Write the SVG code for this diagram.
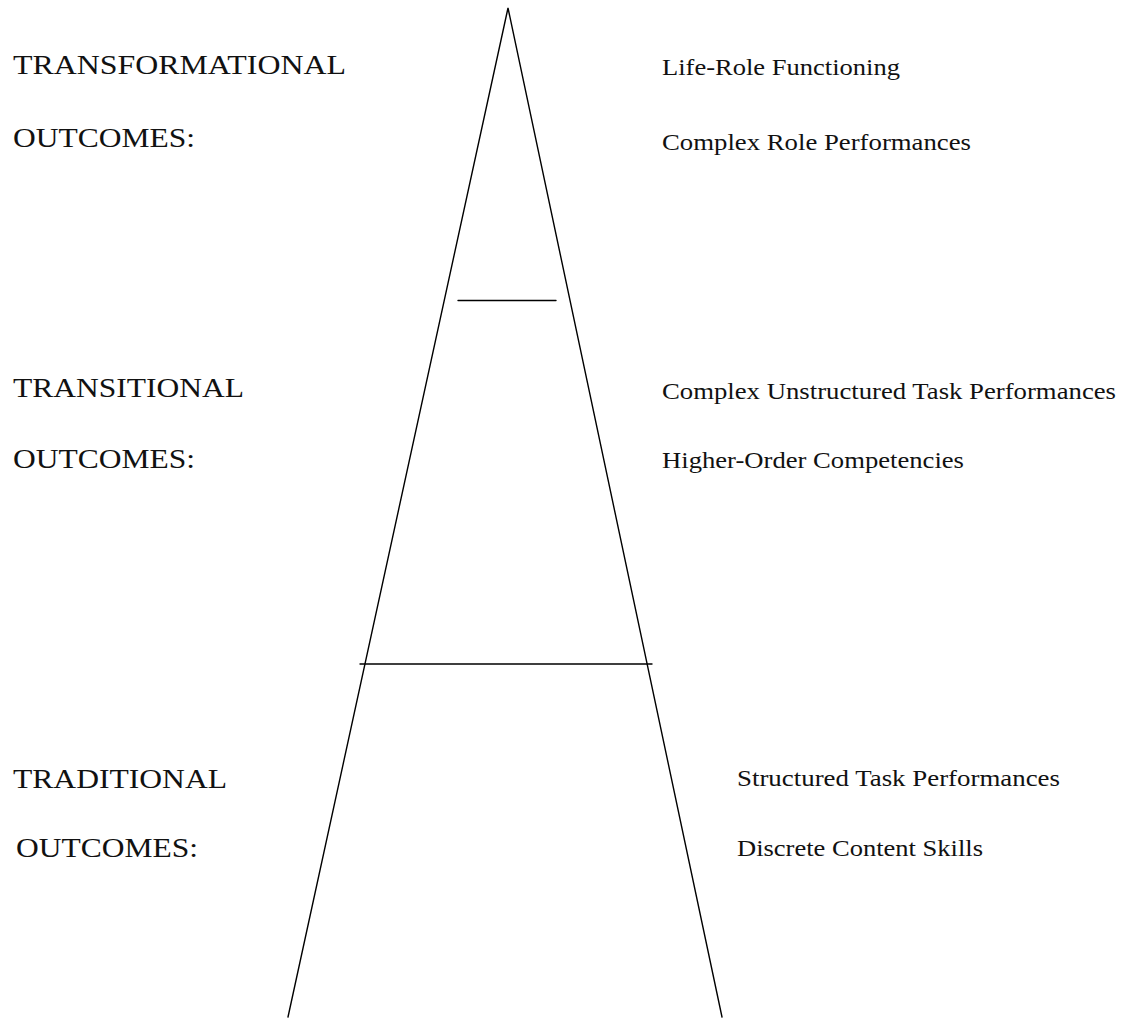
<svg xmlns="http://www.w3.org/2000/svg" width="1122" height="1018" viewBox="0 0 1122 1018">
  <style>
    .edge { stroke: #000; stroke-width: 1.4; fill: none; stroke-linecap: round; }
    .tier { font-family: "Liberation Serif", "Times New Roman", serif; font-size: 27px; fill: #111; }
    .item { font-family: "Liberation Serif", "Times New Roman", serif; font-size: 22.5px; fill: #111; }
  </style>
  <rect width="1122" height="1018" fill="#fff"/>

  <!-- pyramid outline and tier dividers -->
  <g id="connectors">
    <path class="edge" d="M288 1017 L508 8 L722 1017"/>
    <line class="edge" x1="458" y1="300.5" x2="556" y2="300.5"/>
    <line class="edge" x1="360" y1="664" x2="652" y2="664"/>
  </g>

  <g id="transformational">
    <text class="tier" x="13" y="74" textLength="333" lengthAdjust="spacingAndGlyphs">TRANSFORMATIONAL</text>
    <text class="tier" x="13" y="147" textLength="182" lengthAdjust="spacingAndGlyphs">OUTCOMES:</text>
    <text class="item" x="662" y="75" textLength="238" lengthAdjust="spacingAndGlyphs">Life-Role Functioning</text>
    <text class="item" x="662" y="150" textLength="309" lengthAdjust="spacingAndGlyphs">Complex Role Performances</text>
  </g>

  <g id="transitional">
    <text class="tier" x="13" y="397" textLength="231" lengthAdjust="spacingAndGlyphs">TRANSITIONAL</text>
    <text class="tier" x="13" y="468" textLength="182" lengthAdjust="spacingAndGlyphs">OUTCOMES:</text>
    <text class="item" x="662" y="399" textLength="454" lengthAdjust="spacingAndGlyphs">Complex Unstructured Task Performances</text>
    <text class="item" x="662" y="468" textLength="302" lengthAdjust="spacingAndGlyphs">Higher-Order Competencies</text>
  </g>

  <g id="traditional">
    <text class="tier" x="13" y="788" textLength="214" lengthAdjust="spacingAndGlyphs">TRADITIONAL</text>
    <text class="tier" x="16" y="857" textLength="182" lengthAdjust="spacingAndGlyphs">OUTCOMES:</text>
    <text class="item" x="737" y="786" textLength="323" lengthAdjust="spacingAndGlyphs">Structured Task Performances</text>
    <text class="item" x="737" y="856" textLength="246" lengthAdjust="spacingAndGlyphs">Discrete Content Skills</text>
  </g>
</svg>
